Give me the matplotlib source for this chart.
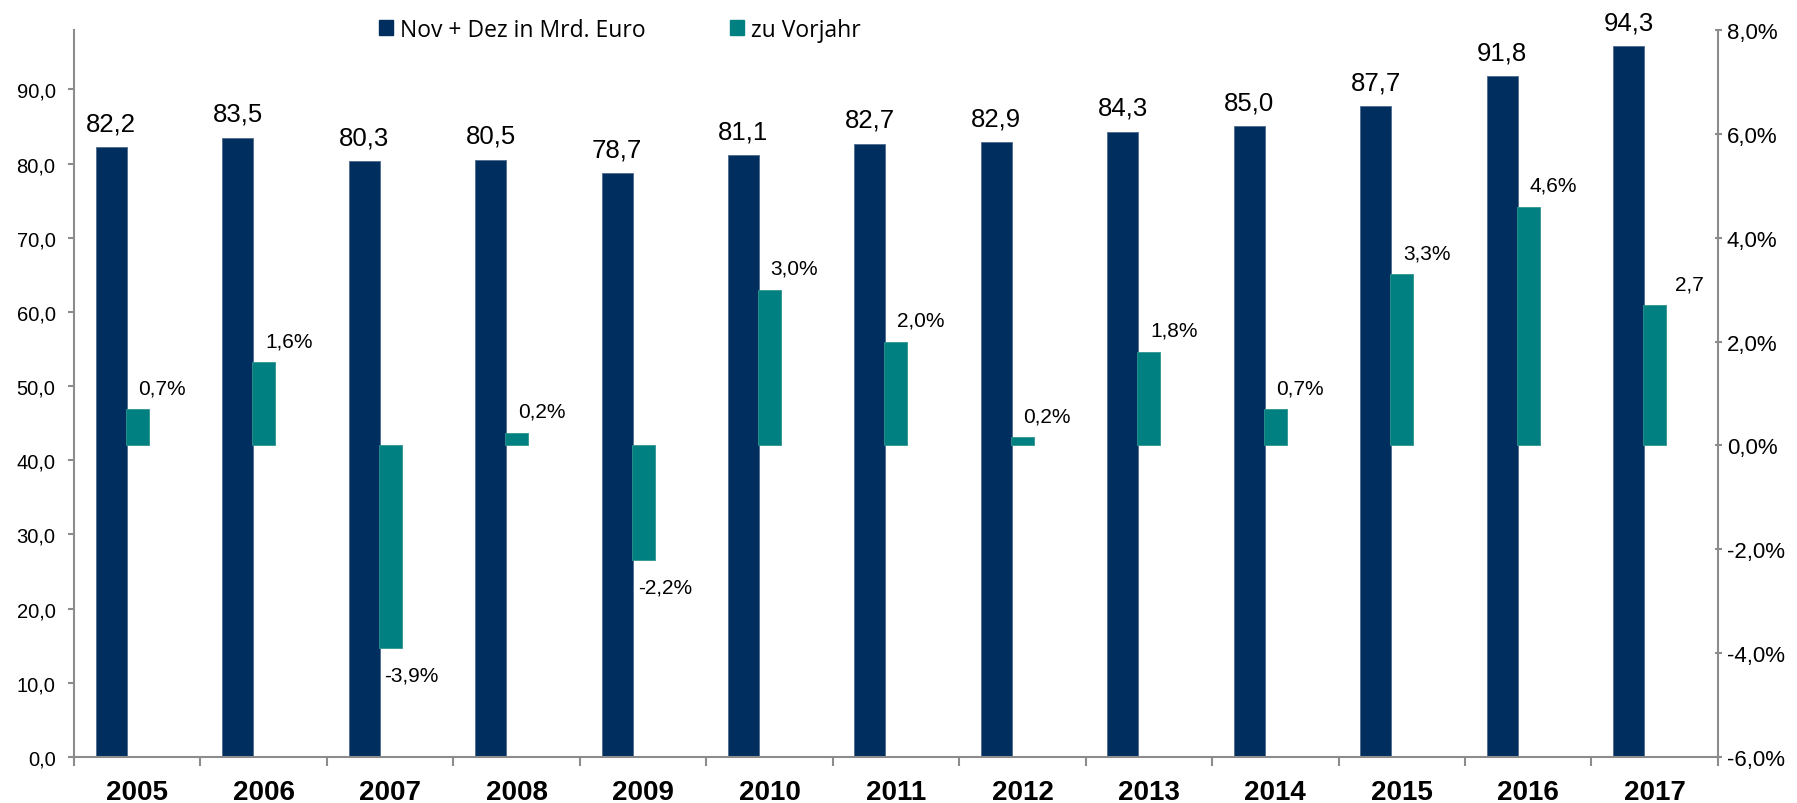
import matplotlib
matplotlib.use("Agg")
import matplotlib.pyplot as plt
import numpy as np
from matplotlib.patches import Patch
from matplotlib.ticker import FixedLocator

years = ["2005", "2006", "2007", "2008", "2009", "2010", "2011", "2012",
         "2013", "2014", "2015", "2016", "2017"]
umsatz = [82.2, 83.5, 80.3, 80.5, 78.7, 81.1, 82.7, 82.9, 84.3, 85.0, 87.7, 91.8, 95.8]
umsatz_labels = ["82,2", "83,5", "80,3", "80,5", "78,7", "81,1", "82,7", "82,9",
                 "84,3", "85,0", "87,7", "91,8", "94,3"]
vorjahr = [0.7, 1.6, -3.9, 0.24, -2.2, 3.0, 2.0, 0.16, 1.8, 0.7, 3.3, 4.6, 2.7]
vorjahr_labels = ["0,7%", "1,6%", "-3,9%", "0,2%", "-2,2%", "3,0%", "2,0%", "0,2%",
                  "1,8%", "0,7%", "3,3%", "4,6%", "2,7"]
left_ticks = [0, 10, 20, 30, 40, 50, 60, 70, 80, 90]
right_ticks = [-6, -4, -2, 0, 2, 4, 6, 8]

NAVY = "#002E5E"
TEAL = "#008080"
GREY = "#8C8C8C"
FONT = "Liberation Sans"

fig = plt.figure(figsize=(17.97, 8.04), dpi=100)
ax = fig.add_axes([0.0412, 0.0572, 0.9148, 0.9042])
ax2 = ax.twinx()

x = np.arange(len(years))
px = 100 / 72.0

bars1 = ax.bar(x - 0.206, umsatz, width=0.245, color=NAVY, edgecolor="#4E6A8C",
               linewidth=0.6, zorder=2)
bars2 = ax2.bar(x, vorjahr, width=0.182, color=TEAL, edgecolor="#2E9490",
                linewidth=0.6, zorder=2)

for xi, v, lab in zip(x, umsatz, umsatz_labels):
    ax.annotate(lab, (xi - 0.206, v), xytext=(0, 17 / px), textcoords="offset points",
                ha="center", va="baseline", fontsize=18.5, family=FONT, color="black")

for xi, v, lab in zip(x, vorjahr, vorjahr_labels):
    off = 16 / px if v >= 0 else -33 / px
    ax2.annotate(lab, (xi + 0.385, v), xytext=(0, off), textcoords="offset points",
                 ha="right", va="baseline", fontsize=15, family=FONT, color="black")

ax.set_xlim(-0.5, len(years) - 0.5)
ax.set_ylim(0, 98)
ax2.set_ylim(-6, 8)

ax.set_yticks(left_ticks)
ax.set_yticklabels([f"{t:.1f}".replace(".", ",") for t in left_ticks],
                   fontsize=14.5, family=FONT)
ax2.set_yticks(right_ticks)
ax2.set_yticklabels([f"{t:.1f}%".replace(".", ",") for t in right_ticks],
                    fontsize=16, family=FONT)

ax.set_xticks(x)
ax.set_xticklabels(years, fontsize=20, family=FONT, fontweight="bold")
ax.xaxis.set_minor_locator(FixedLocator(np.arange(-0.5, len(years), 1.0)))
ax.tick_params(axis="x", which="major", length=0, pad=16)
ax.tick_params(axis="x", which="minor", length=9 / px, width=1.5, color=GREY, direction="out")
ax.tick_params(axis="y", which="major", length=6 / px, width=1.5, color=GREY, pad=9)
ax2.tick_params(axis="y", which="major", length=7 / px, width=1.5, color=GREY,
                direction="inout", pad=4)

for a in (ax, ax2):
    a.spines["top"].set_visible(False)
    for s in ("left", "right", "bottom"):
        a.spines[s].set_color(GREY)
        a.spines[s].set_linewidth(1.5)
ax.spines["right"].set_visible(False)
ax2.spines["left"].set_visible(False)
ax2.spines["bottom"].set_visible(False)

handles = [Patch(facecolor=NAVY, edgecolor=NAVY), Patch(facecolor=TEAL, edgecolor=TEAL)]
leg = ax.legend(handles, ["Nov + Dez in Mrd. Euro", "zu Vorjahr"], ncol=2,
                loc="center", bbox_to_anchor=(0.345, 0.962), bbox_transform=fig.transFigure,
                frameon=False, prop={"family": "Open Sans", "size": 16.5},
                handlelength=0.61, handleheight=0.61, handletextpad=0.3,
                columnspacing=3.7, borderaxespad=0, borderpad=0)

fig.savefig("out.png", dpi=100)
